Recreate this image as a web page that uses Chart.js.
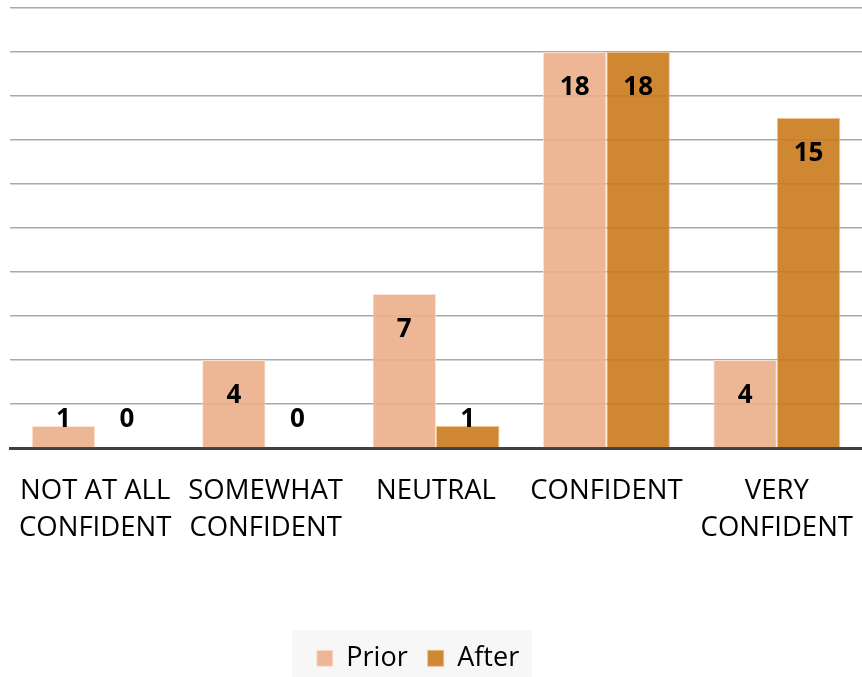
<!DOCTYPE html>
<html>
<head>
<meta charset="utf-8">
<script src="https://cdn.jsdelivr.net/npm/chart.js@4/dist/chart.umd.min.js"></script>
<style>
  html, body { margin: 0; padding: 0; background: #ffffff; }
  #wrap { width: 862px; height: 677px; position: relative; }
</style>
</head>
<body>
<div id="wrap"><canvas id="c"></canvas></div>
<script>
const categories = [
  ["NOT AT ALL", "CONFIDENT"],
  ["SOMEWHAT", "CONFIDENT"],
  ["NEUTRAL"],
  ["CONFIDENT"],
  ["VERY", "CONFIDENT"]
];
const priorValues = [1, 4, 7, 18, 4];
const afterValues = [0, 0, 1, 18, 15];
const seriesNames = ["Prior", "After"];

const FONT = "'Open Sans', 'Liberation Sans', sans-serif";
const LEGEND_FONT = 27;
const LEGEND_PAD = 20;

const dataLabels = {
  id: 'dataLabels',
  afterDatasetsDraw(chart) {
    const ctx = chart.ctx;
    const base = chart.scales.y.getPixelForValue(0);
    ctx.save();
    ctx.font = "bold 26px " + FONT;
    ctx.fillStyle = '#000000';
    ctx.textAlign = 'center';
    ctx.textBaseline = 'middle';
    chart.data.datasets.forEach((ds, di) => {
      const meta = chart.getDatasetMeta(di);
      meta.data.forEach((bar, i) => {
        const y = Math.min(bar.y + 35.5, base - 28);
        ctx.fillText(String(ds.data[i]), bar.x, y);
      });
    });
    ctx.restore();
  }
};

const legendShift = {
  id: 'legendShift',
  afterLayout(chart) {
    const lg = chart.legend;
    if (!lg) return;
    const itemH = LEGEND_FONT * 1.2;
    const dy = 661 - (lg.top + LEGEND_PAD + itemH / 2);
    const dx = -18;
    lg.top += dy; lg.bottom += dy;
    lg.left += dx; lg.right += dx;
  },
  beforeDraw(chart) {
    const lg = chart.legend;
    if (!lg || !lg.legendHitBoxes || !lg.legendHitBoxes.length) return;
    const boxes = lg.legendHitBoxes;
    const l = boxes[0].left - 25;
    const last = boxes[boxes.length - 1];
    const r = last.left + last.width + 13;
    const ctx = chart.ctx;
    ctx.save();
    ctx.fillStyle = '#f7f7f7';
    ctx.fillRect(l, 630, r - l, 47);
    ctx.restore();
  }
};

new Chart(document.getElementById('c'), {
  type: 'bar',
  data: {
    labels: categories,
    datasets: [
      {
        label: seriesNames[0],
        data: priorValues,
        backgroundColor: 'rgba(235,175,139,0.9)',
        borderColor: 'rgba(250,225,210,0.9)',
        borderWidth: 1
      },
      {
        label: seriesNames[1],
        data: afterValues,
        backgroundColor: 'rgba(203,122,27,0.9)',
        borderColor: 'rgba(235,190,140,0.9)',
        borderWidth: 1
      }
    ]
  },
  options: {
    responsive: true,
    maintainAspectRatio: false,
    animation: false,
    devicePixelRatio: 1,
    layout: { padding: { left: 10, right: 0, top: 8, bottom: 0 } },
    datasets: { bar: { categoryPercentage: 0.745, barPercentage: 1.0 } },
    scales: {
      x: {
        grid: { display: false },
        border: { display: true, color: '#404040', width: 3 },
        ticks: {
          color: '#000000',
          font: { family: FONT, size: 27.5, lineHeight: 1.345 },
          padding: 17,
          maxRotation: 0,
          autoSkip: false
        },
        afterFit(scale) {
          scale.height = 172;
          scale.paddingLeft = 0;
          scale.paddingRight = 0;
        }
      },
      y: {
        min: 0,
        max: 20,
        ticks: { display: false, stepSize: 2 },
        border: { display: false },
        grid: { color: '#a9a9a9', lineWidth: 1.5, drawTicks: false }
      }
    },
    plugins: {
      tooltip: { enabled: false },
      legend: {
        position: 'bottom',
        labels: {
          color: '#000000',
          font: { family: FONT, size: LEGEND_FONT },
          boxWidth: 16,
          boxHeight: 16,
          padding: LEGEND_PAD,
          useBorderRadius: false
        }
      }
    }
  },
  plugins: [legendShift, dataLabels]
});
</script>
</body>
</html>
